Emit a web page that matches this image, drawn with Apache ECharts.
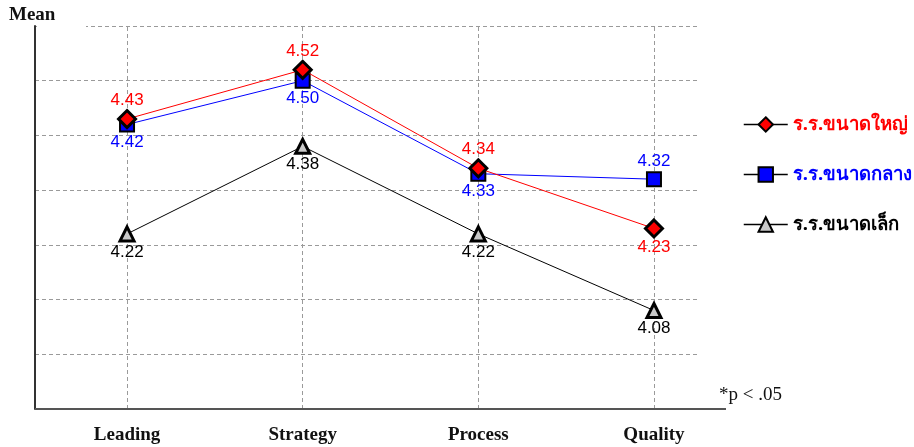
<!DOCTYPE html>
<html>
<head>
<meta charset="utf-8">
<script src="https://cdn.jsdelivr.net/npm/echarts@6/dist/echarts.min.js"></script>
<style>
  html, body { margin: 0; padding: 0; background: #fff; }
  #chart { width: 914px; height: 447px; }
</style>
</head>
<body>
<div id="chart"></div>
<script>
// categories and means
const categories = ['Leading', 'Strategy', 'Process', 'Quality'];
const seriesNames = ['ร.ร.ขนาดใหญ่', 'ร.ร.ขนาดกลาง', 'ร.ร.ขนาดเล็ก'];
const largeSchool = [4.43, 4.52, 4.34, 4.23];
const mediumSchool = [4.42, 4.50, 4.33, 4.32];
const smallSchool = [4.22, 4.38, 4.22, 4.08];

const chart = echarts.init(document.getElementById('chart'));

const labelFont = 'Liberation Sans, Arial, sans-serif';
const serifFont = 'Liberation Serif, Times New Roman, serif';

// value x-axis so the categories can sit where the original puts them
function toPoints(values) {
  return values.map((v, i) => [i + 1, v]);
}

function withLabels(values, positions, color, dist) {
  return toPoints(values).map((p, i) => ({
    value: p,
    label: {
      show: true,
      position: positions[i],
      distance: dist,
      color: color,
      fontSize: 17,
      fontFamily: labelFont,
      formatter: (d) => d.value[1].toFixed(2)
    }
  }));
}

const option = {
  animation: false,
  backgroundColor: '#fff',
  grid: {
    left: 35,
    right: 217,
    top: 26,
    bottom: 38
  },
  xAxis: {
    type: 'value',
    min: 0.476,
    max: 4.245,
    axisLine: { show: false },
    axisTick: { show: false },
    splitLine: { show: false },
    axisLabel: {
      customValues: [1, 2, 3, 4],
      formatter: (v) => categories[Math.round(v) - 1] || '',
      margin: 17,
      color: '#111',
      fontSize: 19,
      fontWeight: 'bold',
      fontFamily: serifFont
    }
  },
  yAxis: {
    type: 'value',
    min: 3.9,
    max: 4.6,
    interval: 0.1,
    axisLabel: { show: false },
    axisTick: { show: false },
    axisLine: { show: true, lineStyle: { color: '#333', width: 2 } },
    splitLine: {
      show: true,
      lineStyle: { color: '#9a9a9a', type: [4, 3], width: 1 }
    }
  },
  legend: {
    orient: 'vertical',
    left: 738,
    top: 110,
    itemWidth: 44,
    itemHeight: 18,
    itemGap: 31,
    lineStyle: { color: '#000', width: 1.5 },
    data: [
      { name: seriesNames[0], textStyle: { color: '#ff0000' } },
      { name: seriesNames[1], textStyle: { color: '#0000ff' } },
      { name: seriesNames[2], textStyle: { color: '#000' } }
    ],
    textStyle: {
      fontSize: 18.5,
      fontWeight: 'bold',
      fontFamily: 'Noto Sans, DejaVu Sans, sans-serif'
    }
  },
  series: [
    {
      name: seriesNames[0],
      type: 'line',
      data: withLabels(largeSchool, ['top', 'top', 'top', 'bottom'], '#ff0000', 0),
      symbol: 'diamond',
      symbolSize: 17,
      z: 4,
      lineStyle: { color: '#ff0000', width: 1 },
      itemStyle: { color: '#ff0000', borderColor: '#000', borderWidth: 3 },
      markLine: {
        silent: true,
        z: 1,
        symbol: 'none',
        label: { show: false },
        lineStyle: { color: '#9a9a9a', type: [4, 3], width: 1 },
        data: categories.map((c, i) => ({ xAxis: i + 1 }))
      }
    },
    {
      name: seriesNames[1],
      type: 'line',
      data: withLabels(mediumSchool, ['bottom', 'bottom', 'bottom', 'top'], '#0000ff', 1),
      symbol: 'rect',
      symbolSize: 14,
      z: 3,
      lineStyle: { color: '#0000ff', width: 1 },
      itemStyle: { color: '#0000ff', borderColor: '#000', borderWidth: 2 }
    },
    {
      name: seriesNames[2],
      type: 'line',
      data: withLabels(smallSchool, ['bottom', 'bottom', 'bottom', 'bottom'], '#000', 1),
      symbol: 'triangle',
      symbolSize: 14,
      lineStyle: { color: '#000', width: 1 },
      itemStyle: { color: '#c8c8c8', borderColor: '#000', borderWidth: 3 }
    }
  ],
  graphic: [
    {
      type: 'line',
      z: 5,
      shape: { x1: 35, y1: 409, x2: 726, y2: 409 },
      style: { stroke: '#555', lineWidth: 2 }
    },
    {
      type: 'rect',
      z: 5,
      shape: { x: 37, y: 22, width: 49, height: 8 },
      style: { fill: '#fff' }
    },
    {
      type: 'text',
      left: 9,
      top: 6,
      style: {
        text: 'Mean',
        fontSize: 19,
        fontWeight: 'bold',
        fontFamily: serifFont,
        fill: '#111'
      }
    },
    {
      type: 'text',
      left: 719,
      top: 386,
      style: {
        text: '*p < .05',
        fontSize: 19,
        fontFamily: serifFont,
        fill: '#111'
      }
    }
  ]
};

chart.setOption(option);
</script>
</body>
</html>
